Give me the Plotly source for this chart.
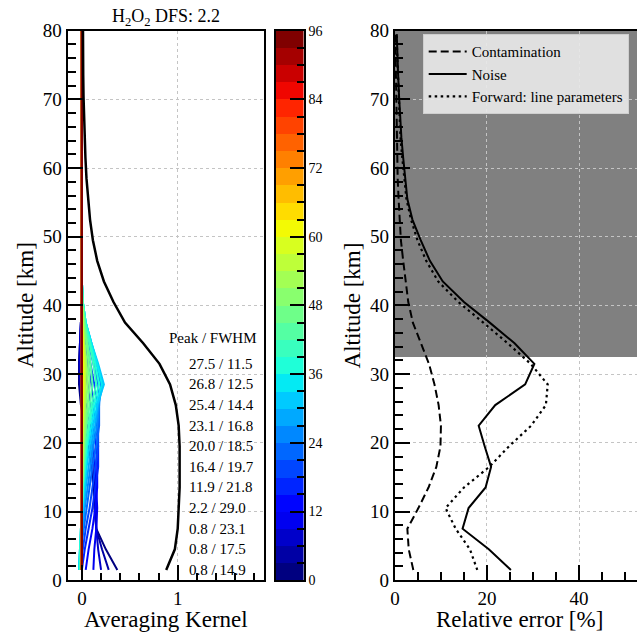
import plotly.graph_objects as go

# ---------------- data ----------------
# altitude grid of the averaging-kernel rows [km]
ak_alt = [1.5, 4.5, 7.5, 10.5, 13.5, 16.5, 19.5, 22.5, 25.5, 28.5, 31.5, 34.5, 37.5, 40.5,
          43.5, 46.5, 49.5, 52.5, 55.5, 58.5, 61.5, 64.5, 67.5, 70.5, 73.5, 76.5, 79.5,
          82.5, 85.5, 88.5, 91.5, 94.5]
# colour value (retrieval altitude) of each kernel row
row_alt = ak_alt

# averaging kernel rows (one list per row, values on ak_alt)
ak_rows = [
    [0.37, 0.25, 0.15, 0.13, 0.12, 0.10, 0.07, 0.03, -0.01, -0.03, -0.03, -0.02, -0.01, 0.00, 0, 0, 0, 0, 0, 0, 0, 0, 0, 0, 0, 0, 0, 0, 0, 0, 0, 0],
    [0.28, 0.21, 0.15, 0.14, 0.13, 0.11, 0.08, 0.04, 0.00, -0.02, -0.03, -0.02, -0.01, 0.00, 0, 0, 0, 0, 0, 0, 0, 0, 0, 0, 0, 0, 0, 0, 0, 0, 0, 0],
    [0.20, 0.17, 0.15, 0.15, 0.14, 0.13, 0.10, 0.06, 0.02, -0.01, -0.02, -0.02, -0.01, 0.00, 0, 0, 0, 0, 0, 0, 0, 0, 0, 0, 0, 0, 0, 0, 0, 0, 0, 0],
    [0.12, 0.13, 0.15, 0.16, 0.15, 0.14, 0.12, 0.09, 0.05, 0.02, 0.00, -0.01, -0.01, 0.00, 0, 0, 0, 0, 0, 0, 0, 0, 0, 0, 0, 0, 0, 0, 0, 0, 0, 0],
    [0.04, 0.07, 0.11, 0.14, 0.16, 0.16, 0.15, 0.12, 0.09, 0.06, 0.03, 0.01, 0.00, 0.00, 0, 0, 0, 0, 0, 0, 0, 0, 0, 0, 0, 0, 0, 0, 0, 0, 0, 0],
    [0.00, 0.03, 0.07, 0.11, 0.14, 0.17, 0.17, 0.15, 0.12, 0.10, 0.06, 0.03, 0.01, 0.00, 0, 0, 0, 0, 0, 0, 0, 0, 0, 0, 0, 0, 0, 0, 0, 0, 0, 0],
    [-0.02, 0.01, 0.04, 0.08, 0.11, 0.14, 0.17, 0.17, 0.16, 0.13, 0.09, 0.05, 0.02, 0.00, 0, 0, 0, 0, 0, 0, 0, 0, 0, 0, 0, 0, 0, 0, 0, 0, 0, 0],
    [-0.03, -0.01, 0.02, 0.05, 0.08, 0.11, 0.15, 0.18, 0.18, 0.17, 0.12, 0.07, 0.03, 0.00, 0, 0, 0, 0, 0, 0, 0, 0, 0, 0, 0, 0, 0, 0, 0, 0, 0, 0],
    [-0.03, -0.01, 0.01, 0.03, 0.06, 0.09, 0.12, 0.16, 0.18, 0.20, 0.14, 0.08, 0.03, 0.01, 0, 0, 0, 0, 0, 0, 0, 0, 0, 0, 0, 0, 0, 0, 0, 0, 0, 0],
    [-0.03, -0.02, 0.00, 0.02, 0.04, 0.07, 0.10, 0.14, 0.17, 0.22, 0.16, 0.10, 0.04, 0.01, 0, 0, 0, 0, 0, 0, 0, 0, 0, 0, 0, 0, 0, 0, 0, 0, 0, 0],
    [-0.03, -0.02, -0.01, 0.01, 0.03, 0.05, 0.08, 0.12, 0.16, 0.23, 0.17, 0.10, 0.04, 0.01, 0, 0, 0, 0, 0, 0, 0, 0, 0, 0, 0, 0, 0, 0, 0, 0, 0, 0],
    [-0.03, -0.02, -0.01, 0.00, 0.02, 0.04, 0.06, 0.10, 0.14, 0.21, 0.16, 0.10, 0.04, 0.01, 0, 0, 0, 0, 0, 0, 0, 0, 0, 0, 0, 0, 0, 0, 0, 0, 0, 0],
    [-0.02, -0.02, -0.01, 0.00, 0.01, 0.03, 0.05, 0.08, 0.12, 0.18, 0.14, 0.09, 0.04, 0.01, 0, 0, 0, 0, 0, 0, 0, 0, 0, 0, 0, 0, 0, 0, 0, 0, 0, 0],
    [-0.02, -0.01, -0.01, 0.00, 0.01, 0.02, 0.04, 0.07, 0.10, 0.15, 0.12, 0.08, 0.03, 0.01, 0, 0, 0, 0, 0, 0, 0, 0, 0, 0, 0, 0, 0, 0, 0, 0, 0, 0],
    [-0.01, -0.01, 0.00, 0.00, 0.01, 0.02, 0.03, 0.05, 0.08, 0.11, 0.09, 0.06, 0.03, 0.01, 0, 0, 0, 0, 0, 0, 0, 0, 0, 0, 0, 0, 0, 0, 0, 0, 0, 0],
    [-0.01, -0.01, 0.00, 0.00, 0.00, 0.01, 0.02, 0.04, 0.06, 0.08, 0.07, 0.05, 0.02, 0.00, 0, 0, 0, 0, 0, 0, 0, 0, 0, 0, 0, 0, 0, 0, 0, 0, 0, 0],
    [-0.01, 0.00, 0.00, 0.00, 0.00, 0.01, 0.02, 0.03, 0.04, 0.06, 0.05, 0.03, 0.02, 0.00, 0, 0, 0, 0, 0, 0, 0, 0, 0, 0, 0, 0, 0, 0, 0, 0, 0, 0],
    [-0.01, 0.00, 0.00, 0.00, 0.00, 0.01, 0.01, 0.02, 0.03, 0.04, 0.04, 0.02, 0.01, 0.00, 0, 0, 0, 0, 0, 0, 0, 0, 0, 0, 0, 0, 0, 0, 0, 0, 0, 0],
    [0.00, 0.00, 0.00, 0.00, 0.00, 0.00, 0.01, 0.01, 0.02, 0.03, 0.03, 0.02, 0.01, 0.00, 0, 0, 0, 0, 0, 0, 0, 0, 0, 0, 0, 0, 0, 0, 0, 0, 0, 0],
    [0.00, 0.00, 0.00, 0.00, 0.00, 0.00, 0.00, 0.01, 0.01, 0.02, 0.02, 0.01, 0.00, 0.00, 0, 0, 0, 0, 0, 0, 0, 0, 0, 0, 0, 0, 0, 0, 0, 0, 0, 0],
    [0.00, 0.00, 0.00, 0.00, 0.00, 0.00, 0.00, 0.00, 0.01, 0.01, 0.01, 0.01, 0.00, 0.00, 0, 0, 0, 0, 0, 0, 0, 0, 0, 0, 0, 0, 0, 0, 0, 0, 0, 0],
    [0, 0, 0, 0, 0, 0, 0, 0, 0, 0, 0, 0, 0, 0, 0, 0, 0, 0, 0, 0, 0, 0, 0, 0, 0, 0, 0, 0, 0, 0, 0, 0],
    [0, 0, 0, 0, 0, 0, 0, 0, 0, 0, 0, 0, 0, 0, 0, 0, 0, 0, 0, 0, 0, 0, 0, 0, 0, 0, 0, 0, 0, 0, 0, 0],
    [0, 0, 0, 0, 0, 0, 0, 0, 0, 0, 0, 0, 0, 0, 0, 0, 0, 0, 0, 0, 0, 0, 0, 0, 0, 0, 0, 0, 0, 0, 0, 0],
    [0, 0, 0, 0, 0, 0, 0, 0, 0, 0, 0, 0, 0, 0, 0, 0, 0, 0, 0, 0, 0, 0, 0, 0, 0, 0, 0, 0, 0, 0, 0, 0],
    [0, 0, 0, 0, 0, 0, 0, 0, 0, 0, 0, 0, 0, 0, 0, 0, 0, 0, 0, 0, 0, 0, 0, 0, 0, 0, 0, 0, 0, 0, 0, 0],
    [0, 0, 0, 0, 0, 0, 0, 0, 0, 0, 0, 0, 0, 0, 0, 0, 0, 0, 0, 0, 0, 0, 0, 0, 0, 0, 0, 0, 0, 0, 0, 0],
    [0, 0, 0, 0, 0, 0, 0, 0, 0, 0, 0, 0, 0, 0, 0, 0, 0, 0, 0, 0, 0, 0, 0, 0, 0, 0, 0, 0, 0, 0, 0, 0],
    [0, 0, 0, 0, 0, 0, 0, 0, 0, 0, 0, 0, 0, 0, 0, 0, 0, 0, 0, 0, 0, 0, 0, 0, 0, 0, 0, 0, 0, 0, 0, 0],
    [0, 0, 0, 0, 0, 0, 0, 0, 0, 0, 0, 0, 0, 0, 0, 0, 0, 0, 0, 0, 0, 0, 0, 0, 0, 0, 0, 0, 0, 0, 0, 0],
    [0, 0, 0, 0, 0, 0, 0, 0, 0, 0, 0, 0, 0, 0, 0, 0, 0, 0, 0, 0, 0, 0, 0, 0, 0, 0, 0, 0, 0, 0, 0, 0],
    [0, 0, 0, 0, 0, 0, 0, 0, 0, 0, 0, 0, 0, 0, 0, 0, 0, 0, 0, 0, 0, 0, 0, 0, 0, 0, 0, 0, 0, 0, 0, 0],
]

# measurement response (sum of kernel rows)
response = [0.88, 0.97, 1.00, 1.01, 1.02, 1.02, 1.02, 1.01, 0.98, 0.92, 0.81, 0.64, 0.45, 0.33,
            0.23, 0.16, 0.115, 0.085, 0.065, 0.048, 0.037, 0.028, 0.022, 0.017, 0.014, 0.012,
            0.010, 0.009, 0.008, 0.007, 0.006, 0.006]

# peak / FWHM of the lowest kernel rows
peak_km = [0.8, 0.8, 0.8, 2.2, 11.9, 16.4, 20.0, 23.1, 25.4, 26.8, 27.5]
fwhm_km = [14.9, 17.5, 23.1, 29.0, 21.8, 19.7, 18.5, 16.8, 14.4, 12.5, 11.5]

# relative errors [%]
err_alt = [1.5, 4.5, 7.5, 10.5, 13.5, 16.5, 19.5, 22.5, 25.5, 28.5, 31.5, 34.5, 37.5, 40.5,
           43.5, 46.5, 49.5, 52.5, 55.5, 58.5, 61.5, 64.5, 67.5, 70.5, 73.5, 76.5, 79.5]
contamination = [4.0, 3.0, 2.7, 5.1, 7.3, 9.0, 9.9, 10.0, 9.5, 8.6, 7.4, 5.6, 3.9, 2.9,
                 2.3, 1.8, 1.3, 1.0, 0.8, 0.6, 0.5, 0.4, 0.3, 0.25, 0.2, 0.15, 0.1]
noise = [25.2, 20.4, 14.7, 16.0, 19.7, 20.9, 19.5, 18.2, 21.8, 28.3, 30.3, 26.0, 20.6, 15.0,
         10.4, 7.6, 5.6, 3.8, 2.7, 2.2, 1.8, 1.4, 1.1, 0.9, 0.7, 0.5, 0.4]
forward = [17.9, 16.3, 13.2, 11.0, 15.0, 20.5, 24.8, 29.6, 32.8, 33.2, 29.5, 24.5, 19.2, 13.8,
           9.4, 6.8, 4.9, 3.5, 2.5, 2.0, 1.6, 1.2, 1.0, 0.8, 0.6, 0.5, 0.4]

shade_bottom_km = 32.5          # top of the trustworthy range
dfs_value = 2.2

cbar_ticks = [0, 12, 24, 36, 48, 60, 72, 84, 96]
cbar_levels = [1.5, 4.5, 7.5, 10.5, 13.5, 16.5, 19.5, 22.5, 25.5, 28.5, 31.5, 34.5, 37.5, 40.5,
               43.5, 46.5, 49.5, 52.5, 55.5, 58.5, 61.5, 64.5, 67.5, 70.5, 73.5, 76.5, 79.5,
               82.5, 85.5, 88.5, 91.5, 94.5]

# ---------------- styling helpers ----------------
FONT = "Liberation Serif"
W = 637
HF = 647          # figure height (the page is shown slightly squeezed vertically)
SCALE_Y = 0.971
OFF_Y = 9.0


def interp(t, xs, ys):
    for i in range(len(xs) - 1):
        if xs[i] <= t <= xs[i + 1]:
            f = (t - xs[i]) / (xs[i + 1] - xs[i])
            return ys[i] + f * (ys[i + 1] - ys[i])
    return ys[-1]


def jet(t):
    r = interp(t, [0, 0.35, 0.66, 0.89, 1], [0, 0, 1, 1, 0.5])
    g = interp(t, [0, 0.125, 0.375, 0.64, 0.91, 1], [0, 0, 1, 1, 0, 0])
    b = interp(t, [0, 0.11, 0.34, 0.65, 1], [0.5, 1, 1, 0, 0])
    return "rgb(%d,%d,%d)" % (round(r * 255), round(g * 255), round(b * 255))


nband = len(cbar_levels)
cmax = cbar_ticks[-1]


def band_color(v):
    k = min(int(v / cmax * nband), nband - 1)
    return jet(k / (nband - 1))


def px_x(p):
    return p / W


def px_y(p):
    return 1 - (p / SCALE_Y - OFF_Y) / HF


fig = go.Figure()

# kernel rows
for r_alt, row in zip(row_alt, ak_rows):
    fig.add_trace(go.Scatter(x=row, y=ak_alt, mode="lines", xaxis="x", yaxis="y",
                             line=dict(color=band_color(r_alt), width=2),
                             showlegend=False, hoverinfo="skip"))
# response
fig.add_trace(go.Scatter(x=response, y=ak_alt, mode="lines", xaxis="x", yaxis="y",
                         line=dict(color="black", width=2.5), showlegend=False))

# colour bar as heat map
cs = []
for k in range(nband):
    c = jet(k / (nband - 1))
    cs.append([k / nband, c])
    cs.append([(k + 1) / nband, c])
fig.add_trace(go.Heatmap(z=[[v] for v in cbar_levels], y=cbar_levels, x=[0],
                         colorscale=cs, zmin=0, zmax=cmax, showscale=False,
                         xaxis="x2", yaxis="y2", hoverinfo="skip"))

# errors
fig.add_trace(go.Scatter(x=contamination, y=err_alt, mode="lines", name="Contamination",
                         xaxis="x3", yaxis="y3",
                         line=dict(color="black", width=2, dash="8px,4px")))
fig.add_trace(go.Scatter(x=noise, y=err_alt, mode="lines", name="Noise",
                         xaxis="x3", yaxis="y3",
                         line=dict(color="black", width=2)))
fig.add_trace(go.Scatter(x=forward, y=err_alt, mode="lines", name="Forward: line parameters",
                         xaxis="x3", yaxis="y3",
                         line=dict(color="black", width=2.2, dash="2.5px,3.5px")))

ydom = [px_y(581), px_y(29.5)]
tickfont = dict(family=FONT, size=19, color="black")
grid = dict(showgrid=True, gridcolor="#c4c4c4", griddash="dot", gridwidth=1)
common = dict(showline=True, linecolor="black", linewidth=2, ticks="inside", ticklen=15,
              tickwidth=2, tickcolor="black", zeroline=False, tickfont=tickfont)

fig.update_layout(
    width=W, height=HF, margin=dict(l=0, r=0, t=0, b=0),
    paper_bgcolor="white", plot_bgcolor="white",
    font=dict(family=FONT, color="black"),
    xaxis=dict(domain=[px_x(63), px_x(261)], range=[-0.15, 1.9], tickvals=[0, 1],
               mirror=True, anchor="y",
               minor=dict(dtick=0.2, tick0=0, ticks="inside", ticklen=7, tickwidth=1.5,
                          tickcolor="black", showgrid=False),
               **grid, **common),
    yaxis=dict(domain=ydom, range=[0, 80], dtick=10, mirror=True, anchor="x",
               minor=dict(dtick=2, ticks="inside", ticklen=8, tickwidth=1.5,
                          tickcolor="black", showgrid=False),
               **grid, **common),
    xaxis2=dict(domain=[px_x(273), px_x(301)], range=[-0.5, 0.5], anchor="y2",
                showline=True, linecolor="black", linewidth=2, mirror=True,
                showticklabels=False, ticks="", showgrid=False, zeroline=False),
    yaxis2=dict(domain=ydom, range=[0, cmax], anchor="x2", side="right",
                tickvals=cbar_ticks, showline=True, linecolor="black", linewidth=2,
                mirror=True, ticks="inside", ticklen=14, tickwidth=2, tickcolor="black",
                minor=dict(dtick=3, ticks="inside", ticklen=7, tickwidth=1.5, tickcolor="black"),
                showgrid=False, zeroline=False,
                tickfont=dict(family=FONT, size=14, color="black")),
    xaxis3=dict(domain=[px_x(393), 1.0], range=[0, 52.6], tickvals=[0, 20, 40],
                mirror=True, anchor="y3",
                minor=dict(dtick=5, tick0=0, ticks="inside", ticklen=8, tickwidth=1.5,
                           tickcolor="black", showgrid=False),
                **grid, **common),
    yaxis3=dict(domain=ydom, range=[0, 80], dtick=10, anchor="x3",
                minor=dict(dtick=2, ticks="inside", ticklen=8, tickwidth=1.5,
                           tickcolor="black", showgrid=False),
                **grid, **common),
    legend=dict(x=px_x(421), y=px_y(33), xanchor="left", yanchor="top",
                bgcolor="rgba(232,232,232,0.92)", bordercolor="#cfcfcf", borderwidth=1,
                font=dict(family=FONT, size=15, color="black"), tracegroupgap=0,
                itemwidth=38),
    showlegend=True,
)

fig.add_shape(type="rect", xref="x3 domain", yref="y3", x0=0, x1=1,
              y0=shade_bottom_km, y1=80, fillcolor="#808080", line=dict(width=0), layer="below")

ann = []
ann.append(dict(text="H<sub>2</sub>O<sub>2</sub> DFS: %.1f" % dfs_value, xref="paper", yref="paper",
                x=px_x(162), y=px_y(16), showarrow=False, xanchor="center", yanchor="middle",
                font=dict(family=FONT, size=18, color="black")))
ann.append(dict(text="Peak / FWHM", xref="x", yref="y", x=1.37, y=35.2, showarrow=False,
                xanchor="center", yanchor="middle", font=dict(family=FONT, size=15, color="black")))
for a, p, w in zip(ak_alt, peak_km, fwhm_km):
    ann.append(dict(text="%.1f / %.1f" % (p, w), xref="x", yref="y", x=1.10, y=a, showarrow=False,
                    xanchor="left", yanchor="middle", font=dict(family=FONT, size=15, color="black")))
tfont = dict(family=FONT, size=23, color="black")
ann.append(dict(text="Altitude [km]", xref="paper", yref="paper", x=px_x(20), y=px_y(305),
                textangle=-90, showarrow=False, xanchor="center", yanchor="middle", font=tfont))
ann.append(dict(text="Altitude [km]", xref="paper", yref="paper", x=px_x(350), y=px_y(305),
                textangle=-90, showarrow=False, xanchor="center", yanchor="middle", font=tfont))
ann.append(dict(text="Averaging Kernel", xref="paper", yref="paper", x=px_x(162), y=px_y(620),
                showarrow=False, xanchor="center", yanchor="middle", font=tfont))
ann.append(dict(text="Relative error [%]", xref="paper", yref="paper", x=px_x(519), y=px_y(620),
                showarrow=False, xanchor="center", yanchor="middle", font=tfont))
fig.update_layout(annotations=ann)

fig.write_html("out.html", post_script="document.body.style.margin='0';",
               config={"displayModeBar": False})
